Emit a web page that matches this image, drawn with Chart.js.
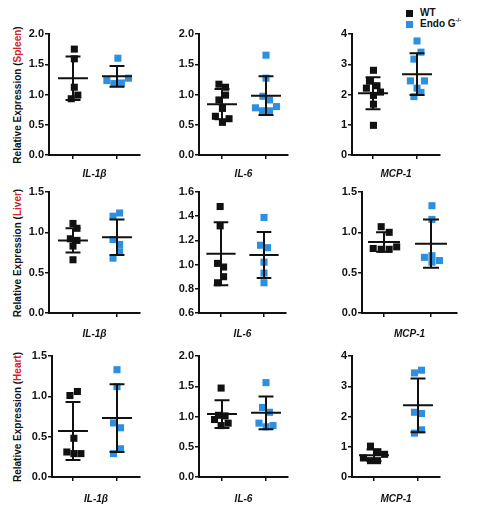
<!DOCTYPE html>
<html>
<head>
<meta charset="utf-8">
<script src="https://cdn.jsdelivr.net/npm/chart.js@4.4.1/dist/chart.umd.min.js"></script>
<style>
  html, body { margin:0; padding:0; background:#fff; }
  #wrap { position:relative; width:489px; height:508px; overflow:hidden; font-family:"Liberation Sans", Arial, sans-serif; }
  .ytitle { position:absolute; transform:translate(-50%,-50%) rotate(-90deg); white-space:nowrap; font-weight:bold; font-size:10px; color:#111; }
  .ytitle span { color:#d3222a; }
  .leg { position:absolute; font-weight:bold; font-size:10px; color:#111; white-space:nowrap; }
  .sw { position:absolute; width:7px; height:7px; }
  sup { font-size:6px; vertical-align:top; position:relative; top:-1px; }
</style>
</head>
<body>
<div id="wrap">
  <div class="ytitle" style="left:17px;top:95px;">Relative Expression (<span>Spleen</span>)</div>
  <div class="ytitle" style="left:17px;top:253px;">Relative Expression (<span>Liver</span>)</div>
  <div class="ytitle" style="left:17px;top:417px;">Relative Expression (<span>Heart</span>)</div>
  <div class="sw" style="left:406px;top:10px;background:#111;"></div>
  <div class="leg" style="left:420px;top:7px;">WT</div>
  <div class="sw" style="left:406px;top:21px;background:#2d8fe0;"></div>
  <div class="leg" style="left:420px;top:18px;">Endo G<sup>-/-</sup></div>
</div>
<script>
// ---------------- DATA ----------------
const genes = ['IL-1β', 'IL-6', 'MCP-1'];
const tissues = ['Spleen', 'Liver', 'Heart'];
const groups = ['WT', 'Endo G-/-'];

// Spleen
const spleenIL1bWT = [1.75, 1.59, 1.12, 0.99, 0.93];
const spleenIL1bWTJit = [0.03, 0.03, 0.03, 0.11, -0.04];
const spleenIL1bKO = [1.60, 1.23, 1.18, 1.19, 1.27];
const spleenIL1bKOJit = [0.02, -0.23, -0.07, 0.10, 0.26];
const spleenIL6WT = [1.17, 1.12, 0.99, 0.91, 0.77, 0.64, 0.60, 0.54];
const spleenIL6WTJit = [-0.07, 0.08, 0.08, -0.07, 0.01, -0.15, 0.16, 0.01];
const spleenIL6KO = [1.65, 1.27, 0.97, 0.91, 0.78, 0.73, 0.73, 0.80];
const spleenIL6KOJit = [0, 0, -0.07, 0.08, -0.24, -0.08, 0.08, 0.24];
const spleenMCP1WT = [2.80, 2.44, 2.21, 2.29, 2.08, 1.97, 1.68, 0.98];
const spleenMCP1WTJit = [0.01, -0.08, -0.15, 0.09, 0.17, 0.01, 0.01, 0.01];
const spleenMCP1KO = [3.77, 3.40, 3.17, 2.45, 2.45, 2.21, 2.07, 1.93];
const spleenMCP1KOJit = [0, 0.09, -0.07, -0.15, 0.17, 0, 0.09, -0.07];
const spleenMeanWT = [1.27, 0.84, 2.04];
const spleenSdWT = [0.36, 0.25, 0.53];
const spleenMeanKO = [1.30, 0.98, 2.67];
const spleenSdKO = [0.17, 0.32, 0.69];

// Liver
const liverIL1bWT = [1.11, 1.05, 0.92, 0.90, 0.83, 0.66];
const liverIL1bWTJit = [0, 0.09, -0.06, 0.09, 0, 0];
const liverIL1bKO = [1.24, 1.20, 0.91, 0.85, 0.76, 0.68];
const liverIL1bKOJit = [0.06, -0.09, -0.09, 0.06, 0.06, -0.09];
const liverIL6WT = [1.48, 1.32, 1.01, 0.98, 0.90, 0.85];
const liverIL6WTJit = [-0.02, -0.02, -0.08, 0.06, 0.06, -0.08];
const liverIL6KO = [1.39, 1.16, 1.14, 1.02, 0.93, 0.85];
const liverIL6KOJit = [0, -0.08, 0.08, 0, 0, 0];
const liverMCP1WT = [1.07, 1.00, 0.80, 0.79, 0.79, 0.82];
const liverMCP1WTJit = [-0.06, 0.11, -0.23, -0.06, 0.11, 0.27];
const liverMCP1KO = [1.33, 1.16, 0.71, 0.69, 0.63, 0.65];
const liverMCP1KOJit = [0.02, 0.02, 0.02, -0.14, 0.02, 0.18];
const liverMeanWT = [0.90, 1.09, 0.88];
const liverSdWT = [0.15, 0.26, 0.12];
const liverMeanKO = [0.94, 1.08, 0.86];
const liverSdKO = [0.22, 0.19, 0.30];

// Heart
const heartIL1bWT = [1.06, 1.01, 0.48, 0.31, 0.29, 0.29];
const heartIL1bWTJit = [0.10, -0.07, 0.02, -0.14, 0.02, 0.18];
const heartIL1bKO = [1.33, 1.12, 0.67, 0.61, 0.35, 0.29];
const heartIL1bKOJit = [0, 0, -0.08, 0.08, 0.08, -0.08];
const heartIL6WT = [1.47, 1.02, 1.01, 0.95, 0.89, 0.85];
const heartIL6WTJit = [-0.02, -0.08, 0.07, -0.17, 0.14, -0.02];
const heartIL6KO = [1.56, 1.15, 1.07, 0.89, 0.85, 0.83];
const heartIL6KOJit = [0, -0.08, 0.08, -0.16, 0.16, 0];
const heartMCP1WT = [1.02, 0.83, 0.75, 0.63, 0.54, 0.54];
const heartMCP1WTJit = [-0.08, 0.08, 0.24, -0.24, -0.08, 0.08];
const heartMCP1KO = [3.53, 3.44, 2.14, 2.10, 1.56, 1.45];
const heartMCP1KOJit = [0.08, -0.08, -0.08, 0.08, 0.08, -0.08];
const heartMeanWT = [0.57, 1.04, 0.72];
const heartSdWT = [0.36, 0.23, 0.19];
const heartMeanKO = [0.73, 1.06, 2.37];
const heartSdKO = [0.42, 0.27, 0.89];

// Y axis ranges (per tissue, per gene)
const spleenYMin = [0, 0, 0], spleenYMax = [2, 2, 4], spleenYStep = [0.5, 0.5, 1];
const liverYMin = [0, 0.6, 0], liverYMax = [1.5, 1.6, 1.5], liverYStep = [0.5, 0.2, 0.5];
const heartYMin = [0, 0, 0], heartYMax = [1.5, 2, 4], heartYStep = [0.5, 0.5, 1];

// ---------------- ASSEMBLY ----------------
const panelData = [
  [spleenIL1bWT, spleenIL1bWTJit, spleenIL1bKO, spleenIL1bKOJit],
  [spleenIL6WT, spleenIL6WTJit, spleenIL6KO, spleenIL6KOJit],
  [spleenMCP1WT, spleenMCP1WTJit, spleenMCP1KO, spleenMCP1KOJit],
  [liverIL1bWT, liverIL1bWTJit, liverIL1bKO, liverIL1bKOJit],
  [liverIL6WT, liverIL6WTJit, liverIL6KO, liverIL6KOJit],
  [liverMCP1WT, liverMCP1WTJit, liverMCP1KO, liverMCP1KOJit],
  [heartIL1bWT, heartIL1bWTJit, heartIL1bKO, heartIL1bKOJit],
  [heartIL6WT, heartIL6WTJit, heartIL6KO, heartIL6KOJit],
  [heartMCP1WT, heartMCP1WTJit, heartMCP1KO, heartMCP1KOJit]
];
const rowStats = [
  [spleenMeanWT, spleenSdWT, spleenMeanKO, spleenSdKO],
  [liverMeanWT, liverSdWT, liverMeanKO, liverSdKO],
  [heartMeanWT, heartSdWT, heartMeanKO, heartSdKO]
];
const rowAxes = [
  [spleenYMin, spleenYMax, spleenYStep],
  [liverYMin, liverYMax, liverYStep],
  [heartYMin, heartYMax, heartYStep]
];

// layout (pixel geometry of each panel's plot area)
const rowY = [[34, 155], [192, 313], [356, 477]];
const colGeom = [
  {left:49, right:140, t1:73, t2:117}, {left:199, right:288, t1:222, t2:266}, {left:352, right:440, t1:373, t2:417},
  {left:49, right:140, t1:73, t2:117}, {left:199, right:286, t1:221, t2:264}, {left:362, right:457, t1:384, t2:431},
  {left:52, right:140, t1:73, t2:117}, {left:199, right:288, t1:222, t2:266}, {left:352, right:440, t1:374, t2:418}
];
const HxRow = [25, 27, 28];
const Wy = 36, padTop = 8, padRight = 6;
const FONT = '"Liberation Sans", Arial, sans-serif';
const INK = '#111';
const BLUE = '#2d8fe0';

function errorBarPlugin(mWT, sWT, mKO, sKO) {
  return {
    id: 'errorBars',
    afterDatasetsDraw(chart) {
      const {ctx, scales: {x, y}} = chart;
      [[1, mWT, sWT], [2, mKO, sKO]].forEach(([pos, m, s]) => {
        const cx = x.getPixelForValue(pos);
        const half = x.getPixelForValue(pos + 0.34) - cx;
        const cap = x.getPixelForValue(pos + 0.17) - cx;
        const ym = y.getPixelForValue(m);
        const yh = y.getPixelForValue(m + s);
        const yl = y.getPixelForValue(m - s);
        ctx.save();
        ctx.strokeStyle = INK;
        ctx.lineWidth = 2;
        ctx.beginPath();
        ctx.moveTo(cx - half, ym); ctx.lineTo(cx + half, ym);
        ctx.moveTo(cx, yh); ctx.lineTo(cx, yl);
        ctx.moveTo(cx - cap, yh); ctx.lineTo(cx + cap, yh);
        ctx.moveTo(cx - cap, yl); ctx.lineTo(cx + cap, yl);
        ctx.stroke();
        ctx.restore();
      });
    }
  };
}

const wrap = document.getElementById('wrap');
panelData.forEach((pd, i) => {
  const r = Math.floor(i / 3), c = i % 3;
  const g = colGeom[i];
  const [top, bottom] = rowY[r];
  const Hx = HxRow[r];
  const u = g.t2 - g.t1;
  const xmin = 1 - (g.t1 - g.left) / u;
  const xmax = 2 + (g.right - g.t2) / u;
  const W = Wy + (g.right - g.left) + padRight;
  const H = padTop + (bottom - top) + Hx;
  const canvas = document.createElement('canvas');
  canvas.width = W; canvas.height = H;
  canvas.style.cssText = `position:absolute;left:${g.left - Wy}px;top:${top - padTop}px;width:${W}px;height:${H}px;`;
  wrap.appendChild(canvas);

  const [wt, wtJ, ko, koJ] = pd;
  const [mWT, sWT, mKO, sKO] = rowStats[r];
  const [yMin, yMax, yStep] = rowAxes[r];
  const dec = yStep[c] < 1 ? 1 : 0;

  new Chart(canvas, {
    type: 'scatter',
    data: {
      datasets: [
        { label: groups[0], data: wt.map((v, k) => ({x: 1 + wtJ[k], y: v})),
          pointStyle: 'rect', pointRadius: 5, backgroundColor: INK, borderWidth: 0 },
        { label: groups[1], data: ko.map((v, k) => ({x: 2 + koJ[k], y: v})),
          pointStyle: 'rect', pointRadius: 5, backgroundColor: BLUE, borderWidth: 0 }
      ]
    },
    options: {
      responsive: false,
      devicePixelRatio: 1,
      animation: false,
      layout: { padding: { top: padTop, left: 0, right: padRight, bottom: 0 } },
      plugins: { legend: { display: false }, tooltip: { enabled: false } },
      scales: {
        x: {
          type: 'linear', min: xmin, max: xmax,
          afterBuildTicks: s => { s.ticks = [{value: 1}, {value: 2}]; },
          afterFit: s => { s.height = Hx; },
          grid: { display: true, drawOnChartArea: false, drawTicks: true, tickLength: 4, color: INK, lineWidth: 1.5 },
          border: { display: true, color: INK, width: 2 },
          ticks: { callback: () => '', padding: 0 },
          title: { display: true, text: genes[c], color: INK, padding: 0,
                   font: { family: FONT, size: 10, weight: 'bold', style: 'italic' } }
        },
        y: {
          min: yMin[c], max: yMax[c],
          afterFit: s => { s.width = Wy; },
          grid: { display: true, drawOnChartArea: false, drawTicks: true, tickLength: 4, color: INK, lineWidth: 1.5 },
          border: { display: true, color: INK, width: 2 },
          ticks: { stepSize: yStep[c], padding: 1, color: INK,
                   callback: v => Number(v).toFixed(dec),
                   font: { family: FONT, size: 11, weight: 'bold' } }
        }
      }
    },
    plugins: [errorBarPlugin(mWT[c], sWT[c], mKO[c], sKO[c])]
  });
});
</script>
</body>
</html>
